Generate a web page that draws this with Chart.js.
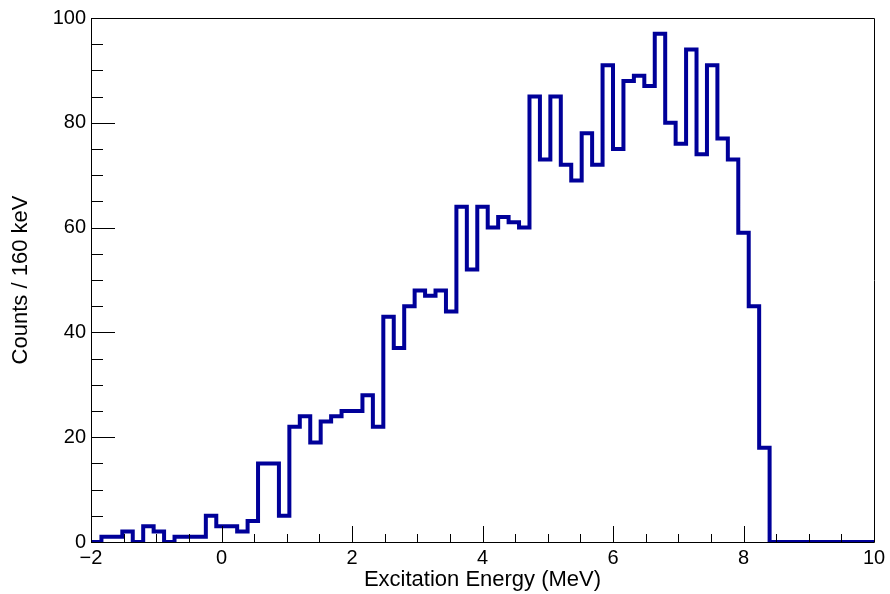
<!DOCTYPE html>
<html>
<head>
<meta charset="utf-8">
<script src="https://cdn.jsdelivr.net/npm/chart.js@4"></script>
<style>
  html, body { margin: 0; padding: 0; background: #fff; }
  #wrap { width: 890px; height: 594px; }
</style>
</head>
<body>
<div id="wrap"><canvas id="histo"></canvas></div>
<script>
// histogram: 75 bins of 160 keV from -2 to 10 MeV
const xMin = -2;
const xMax = 10;
const binWidth = 0.16;
const counts = [0, 1, 1, 2, 0, 3, 2, 0, 1, 1,
    1, 5, 3, 3, 2, 4, 15, 15, 5, 22,
    24, 19, 23, 24, 25, 25, 28, 22, 43, 37,
    45, 48, 47, 48, 44, 64, 52, 64, 60, 62,
    61, 60, 85, 73, 85, 72, 69, 78, 72, 91,
    75, 88, 89, 87, 97, 80, 76, 94, 74, 91,
    77, 73, 59, 45, 18, 0, 0, 0, 0, 0,
    0, 0, 0, 0, 0];
const xTickLabels = ['−2', '0', '2', '4', '6', '8', '10'];
const yTickLabels = ['0', '20', '40', '60', '80', '100'];

const points = counts.map((c, i) => ({ x: xMin + i * binWidth, y: c }));
points.push({ x: xMax, y: counts[counts.length - 1] });

const tickFont = { family: '"Liberation Sans", Arial, sans-serif', size: 20 };
const titleFont = { family: '"Liberation Sans", Arial, sans-serif', size: 22 };

// ROOT style frame with inward ticks
const frameTicks = {
    id: 'frameTicks',
    afterDraw(chart) {
        const { ctx, chartArea: a, scales } = chart;
        const xs = scales.x, ys = scales.y;
        ctx.save();
        ctx.strokeStyle = '#000';
        ctx.lineWidth = 1;
        ctx.beginPath();
        ctx.rect(a.left + 0.5, a.top + 0.5, a.right - a.left, a.bottom - a.top);
        for (let v = xMin; v <= xMax + 1e-9; v += 0.5) {
            const px = Math.round(xs.getPixelForValue(v)) + 0.5;
            const len = Math.abs(v % 2) < 1e-6 ? 16 : 8;
            ctx.moveTo(px, a.bottom);
            ctx.lineTo(px, a.bottom - len);
        }
        for (let v = 0; v <= 100; v += 5) {
            const py = Math.round(ys.getPixelForValue(v)) + 0.5;
            const len = v % 20 === 0 ? 24 : 12;
            ctx.moveTo(a.left, py);
            ctx.lineTo(a.left + len, py);
        }
        ctx.stroke();
        ctx.restore();
    }
};

new Chart(document.getElementById('histo'), {
    type: 'line',
    data: {
        datasets: [{
            data: points,
            stepped: true,
            borderColor: '#000099',
            borderWidth: 4,
            borderJoinStyle: 'miter',
            pointRadius: 0,
            fill: false
        }]
    },
    options: {
        responsive: true,
        maintainAspectRatio: false,
        animation: false,
        layout: { padding: { top: 18, right: 16, left: 0, bottom: 0 } },
        plugins: { legend: { display: false }, tooltip: { enabled: false } },
        scales: {
            x: {
                type: 'linear',
                min: xMin,
                max: xMax,
                afterFit: s => { s.height = 52; },
                grid: { display: false, drawTicks: false },
                border: { display: false },
                ticks: {
                    stepSize: 2,
                    padding: 4,
                    color: '#000',
                    font: tickFont,
                    callback: (v) => xTickLabels[Math.round((v - xMin) / 2)]
                },
                title: {
                    display: true,
                    text: 'Excitation Energy (MeV)',
                    color: '#000',
                    font: titleFont,
                    padding: { top: 0, bottom: 1 }
                }
            },
            y: {
                min: 0,
                max: 100,
                afterFit: s => { s.width = 91; },
                grid: { display: false, drawTicks: false },
                border: { display: false },
                ticks: {
                    stepSize: 20,
                    padding: 5,
                    color: '#000',
                    font: tickFont,
                    callback: (v) => yTickLabels[v / 20]
                },
                title: {
                    display: true,
                    text: 'Counts / 160 keV',
                    color: '#000',
                    font: titleFont,
                    padding: { top: 8, bottom: 0 }
                }
            }
        }
    },
    plugins: [frameTicks]
});
</script>
</body>
</html>
